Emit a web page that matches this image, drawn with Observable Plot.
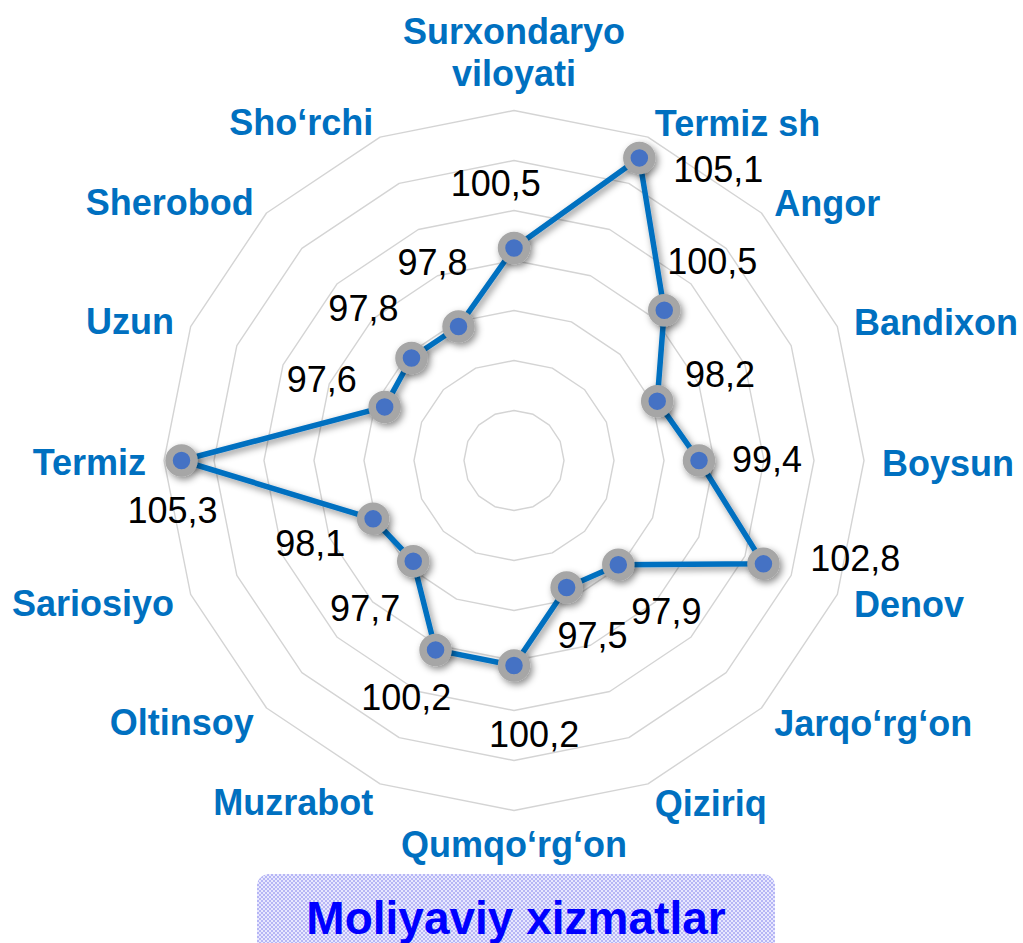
<!DOCTYPE html>
<html>
<head>
<meta charset="utf-8">
<script src="https://cdn.jsdelivr.net/npm/d3@7"></script>
<script src="https://cdn.jsdelivr.net/npm/@observablehq/plot@0.6"></script>
<style>
  html, body { margin: 0; padding: 0; background: #ffffff; }
  #wrap { position: relative; width: 1023px; height: 943px; overflow: hidden; background: #fff; }
  #title {
    position: absolute; left: 257px; top: 874px; width: 518px; height: 100px;
    border-radius: 12px;
    background-color: #d0d0fa;
    background-image: conic-gradient(#b6b6f5 25%, #e8e8fe 0 50%, #b6b6f5 0 75%, #e8e8fe 0);
    background-size: 4px 4px;
    font: bold 46px "Liberation Sans", Arial, sans-serif;
    color: #0000ff; text-align: center; line-height: 46px;
    padding-top: 21px; box-sizing: border-box;
  }
</style>
</head>
<body>
<div id="wrap">
  <div id="chart"></div>
  <div id="title">Moliyaviy xizmatlar</div>
</div>
<script>
// ---- data ----
const categories = [
  "Surxondaryo viloyati", "Termiz sh", "Angor", "Bandixon", "Boysun", "Denov",
  "Jarqo‘rg‘on", "Qiziriq", "Qumqo‘rg‘on", "Muzrabot", "Oltinsoy", "Sariosiyo",
  "Termiz", "Uzun", "Sherobod", "Sho‘rchi"
];
const values = [100.5, 105.1, 100.5, 98.2, 99.4, 102.8, 97.9, 97.5, 100.2, 100.2, 97.7, 98.1, 105.3, 97.6, 97.8, 97.8];
const ringTicks = [94, 96, 98, 100, 102, 104, 106];
const axisMin = 92;

// ---- layout ----
const W = 1023, H = 943;
const pxPerUnit = 25;          // radial scale: 2 units per 50px ring
const cx = 513.5, cy = 460;    // chart centre in pixels
const N = categories.length;
const ang = i => i * 2 * Math.PI / N;
const X = d => (d.value - axisMin) * Math.sin(ang(d.i)) + (d.ox || 0);
const Y = d => (d.value - axisMin) * Math.cos(ang(d.i)) + (d.oy || 0);

const points = categories.map((c, i) => ({category: c, value: values[i], i}));
const rings = ringTicks.flatMap(t => categories.map((c, i) => ({ring: t, value: t, i})));

// category labels just outside the outer ring
const labelValue = d3.max(ringTicks) + 0.72;
const catLabels = categories.map((c, i) => ({
  label: i === 0 ? c.replace(" ", "\n") : c, value: labelValue, i
}));

// value labels: radial placement, with a few manual nudges (compass angle, px distance)
const nudges = {0: [-16, 66], 1: [99, 80], 5: [87, 92], 7: [152, 55], 8: [164, 73], 9: [211, 57], 12: [190, 52]};
const valLabels = points.map(d => {
  const [a, dist] = nudges[d.i] || [d.i * 360 / N, 68];
  const r = a * Math.PI / 180;
  return {...d, label: d.value.toFixed(1).replace(".", ","),
    ox: dist * Math.sin(r) / pxPerUnit, oy: dist * Math.cos(r) / pxPerUnit};
});

const font = "Liberation Sans, Arial, sans-serif";
const blue = "#0070C0";
const catText = {x: X, y: Y, text: "label", fill: blue, fontSize: 36, fontWeight: "bold", fontFamily: font};

const plot = Plot.plot({
  width: W, height: H,
  margin: 0,
  style: {fontFamily: font, background: "#fff"},
  x: {domain: [-cx / pxPerUnit, (W - cx) / pxPerUnit], range: [0, W], axis: null},
  y: {domain: [-(H - cy) / pxPerUnit, cy / pxPerUnit], range: [H, 0], axis: null},
  marks: [
    Plot.line(rings, {x: X, y: Y, z: "ring", curve: "linear-closed", stroke: "#d4d4d4", strokeWidth: 1.4}),
    Plot.line(points, {x: X, y: Y, curve: "linear-closed", stroke: blue, strokeWidth: 5.5, strokeLinejoin: "round"}),
    Plot.dot(points, {x: X, y: Y, r: 12.5, fill: "#4472C4", stroke: "#A6A6A6", strokeWidth: 7.5}),
    Plot.text(catLabels.filter(d => d.i === 0), {...catText, lineAnchor: "bottom", lineHeight: 1.15, dy: -7}),
    Plot.text(catLabels.filter(d => d.i === N / 2), {...catText, lineAnchor: "top", dy: 3}),
    Plot.text(catLabels.filter(d => d.i > 0 && d.i < N / 2), {...catText, textAnchor: "start", lineAnchor: "middle", dy: 4}),
    Plot.text(catLabels.filter(d => d.i > N / 2), {...catText, textAnchor: "end", lineAnchor: "middle", dy: 3}),
    Plot.text(valLabels, {x: X, y: Y, text: "label", fill: "#000", fontSize: 36, fontFamily: font, lineAnchor: "middle"})
  ]
});

// soft drop shadow on the series line and markers
const svg = d3.select(plot);
const defs = svg.insert("defs", ":first-child");
const f = defs.append("filter").attr("id", "shadow").attr("x", "-20%").attr("y", "-20%").attr("width", "140%").attr("height", "140%");
f.append("feDropShadow").attr("dx", 2.5).attr("dy", 3).attr("stdDeviation", 3.5)
  .attr("flood-color", "#000").attr("flood-opacity", 0.45);
const lines = svg.selectAll('g[aria-label="line"]').nodes();
d3.select(lines[lines.length - 1]).attr("filter", "url(#shadow)");
svg.selectAll('g[aria-label="dot"]').attr("filter", "url(#shadow)");

document.getElementById("chart").appendChild(plot);
</script>
</body>
</html>
